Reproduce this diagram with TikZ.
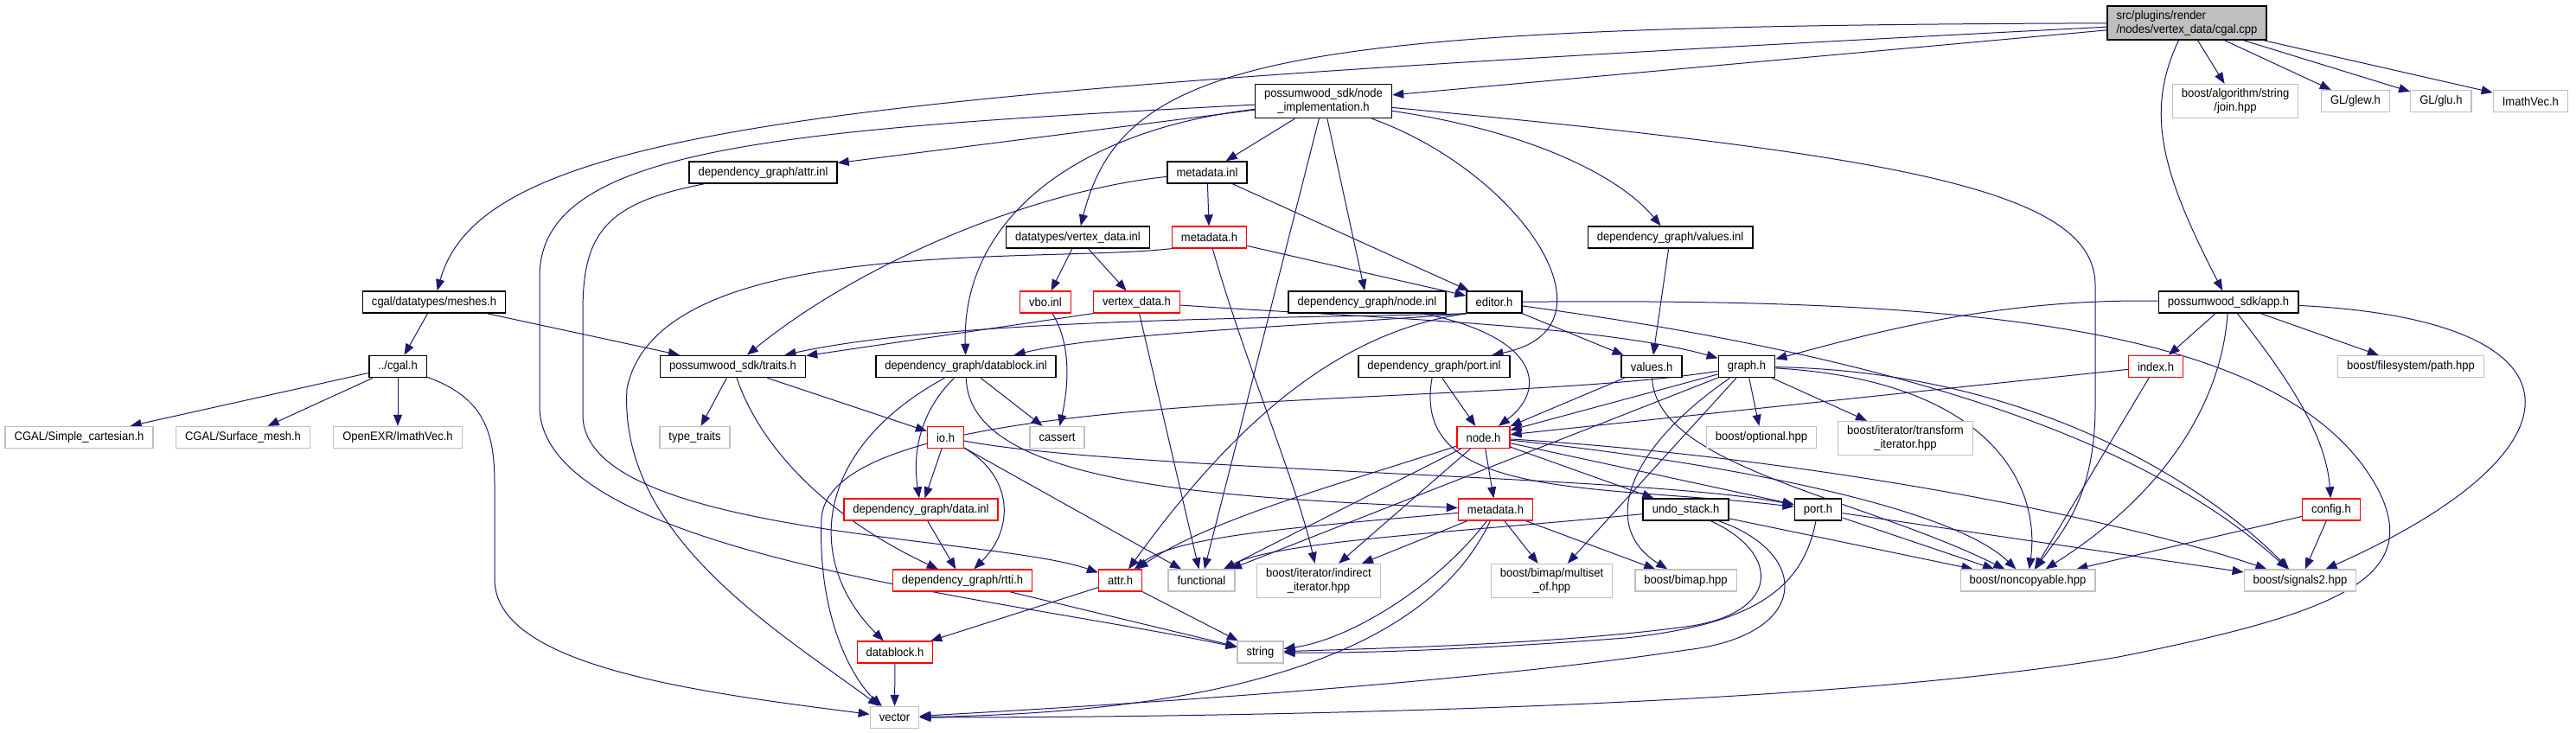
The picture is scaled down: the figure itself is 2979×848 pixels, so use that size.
\documentclass[tikz,border=0pt]{standalone}
\usepackage{fontspec}
\setmainfont{Liberation Sans}[FakeStretch=0.93]
\usepackage{tikz}
\usetikzlibrary{arrows.meta,positioning,backgrounds}

\definecolor{edgeblue}{HTML}{191970}
\definecolor{extgray}{HTML}{BFBFBF}

\begin{document}
\begin{tikzpicture}[
  x=1pt, y=-1pt,
  every node/.style={font=\fontsize{14}{16}\selectfont},
  box/.style={draw, fill=white, inner xsep=10.5pt, inner ysep=5pt, minimum height=25pt,
              align=center, line width=1.3pt},
  doc/.style={box, draw=black, line width=1.6pt},
  trunc/.style={box, draw=red},
  ext/.style={box, draw=extgray},
  self/.style={box, draw=black, fill=extgray, align=left, line width=1.6pt},
  dep/.style={edgeblue, line width=1pt, -{Triangle[length=13pt,width=10pt]}},
]
  \useasboundingbox (0,0) rectangle (2979,848);

  \node[self] (root) at (2529,26.5) {src/plugins/render\\/nodes/vertex\_data/cgal.cpp};
  \node[doc] (ni) at (1530.5,117) {possumwood\_sdk/node\\\_implementation.h};
  \node[ext] (join) at (2585,117) {boost/algorithm/string\\/join.hpp};
  \node[ext] (glew) at (2724,117) {GL/glew.h};
  \node[ext, right=23pt of glew] (glu) {GL/glu.h};
  \node[ext, right=24pt of glu] (imath) {ImathVec.h};

  \node[doc] (attrinl) at (882.5,199.5) {dependency\_graph/attr.inl};
  \node[doc] (mdinl) at (1396,199.5) {metadata.inl};
  \node[doc] (vdinl) at (1246.5,274.5) {datatypes/vertex\_data.inl};
  \node[trunc] (mdh1) at (1398.5,274.5) {metadata.h};
  \node[doc] (valinl) at (1931.5,274.5) {dependency\_graph/values.inl};

  \node[doc] (meshes) at (502,349.5) {cgal/datatypes/meshes.h};
  \node[trunc] (vbo) at (1209,349.5) {vbo.inl};
  \node[trunc] (vdh) at (1314.5,349.5) {vertex\_data.h};
  \node[doc] (nodeinl) at (1581,349.5) {dependency\_graph/node.inl};
  \node[doc] (editor) at (1728,349.5) {editor.h};
  \node[doc] (app) at (2577,349.5) {possumwood\_sdk/app.h};

  \node[doc] (cgalh) at (460,424) {../cgal.h};
  \node[doc] (traits) at (847.5,424) {possumwood\_sdk/traits.h};
  \node[doc] (dbinl) at (1117,424) {dependency\_graph/datablock.inl};
  \node[doc] (portinl) at (1658.5,424) {dependency\_graph/port.inl};
  \node[doc] (valh) at (1910,424) {values.h};
  \node[doc] (graph) at (2020,424) {graph.h};
  \node[trunc] (index) at (2493,424) {index.h};
  \node[ext] (path) at (2788,424) {boost/filesystem/path.hpp};

  \node[ext] (simple) at (91.5,506) {CGAL/Simple\_cartesian.h};
  \node[ext] (surface) at (281,506) {CGAL/Surface\_mesh.h};
  \node[ext] (openexr) at (460,506) {OpenEXR/ImathVec.h};
  \node[ext] (typetraits) at (803.5,506) {type\_traits};
  \node[trunc] (io) at (1093.5,506) {io.h};
  \node[ext] (cassert) at (1222.5,506) {cassert};
  \node[trunc] (nodeh) at (1715.5,506) {node.h};
  \node[ext] (optional) at (2037,506) {boost/optional.hpp};
  \node[ext] (transform) at (2203.5,507) {boost/iterator/transform\\\_iterator.hpp};

  \node[trunc] (datainl) at (1065,589.5) {dependency\_graph/data.inl};
  \node[trunc] (mdh2) at (1729.5,589.5) {metadata.h};
  \node[doc] (undo) at (1949.5,589.5) {undo\_stack.h};
  \node[doc] (porth) at (2102.5,589.5) {port.h};
  \node[trunc] (config) at (2696,589.5) {config.h};

  \node[trunc] (rtti) at (1113,671.5) {dependency\_graph/rtti.h};
  \node[trunc] (attrh) at (1295.5,671.5) {attr.h};
  \node[ext] (functional) at (1389.5,671.5) {functional};
  \node[ext] (indirect) at (1525,672) {boost/iterator/indirect\\\_iterator.hpp};
  \node[ext] (multiset) at (1794.5,672) {boost/bimap/multiset\\\_of.hpp};
  \node[ext] (bimap) at (1949.5,671.5) {boost/bimap.hpp};
  \node[ext] (noncopyable) at (2345,671.5) {boost/noncopyable.hpp};
  \node[ext] (signals2) at (2660,671.5) {boost/signals2.hpp};

  \node[trunc] (datablockh) at (1035,754.5) {datablock.h};
  \node[ext] (string) at (1457.5,754.5) {string};
  \node[ext] (vector) at (1034.5,830) {vector};

  \begin{scope}[on background layer]
  \fill[white] (0,0) rectangle (2979,848);
  \draw[dep] (root) -- (ni);
  \draw[dep] (root) .. controls (1000,105) and (560,140) .. (meshes);
  \draw[dep] (root) .. controls (1500,30) and (1300,60) .. (vdinl);
  \draw[dep] (root) .. controls (2480,130) and (2500,200) .. (app);
  \draw[dep] (root) -- (join); \draw[dep] (root) -- (glew);
  \draw[dep] (root) -- (glu); \draw[dep] (root) -- (imath);

  \draw[dep] (ni) -- (attrinl); \draw[dep] (ni) -- (mdinl);
  \draw[dep] (ni) .. controls (1250,150) and (1112,250) .. (dbinl);
  \draw[dep] (ni) -- (functional); \draw[dep] (ni) -- (nodeinl);
  \draw[dep] (ni) .. controls (1760,200) and (1880,380) .. (portinl);
  \draw[dep] (ni) .. controls (1760,150) and (1870,200) .. (valinl);
  \draw[dep] (ni) .. controls (2200,180) and (2423,220) .. (2423,330) -- (2423,470)
    .. controls (2423,580) and (2380,620) .. (noncopyable);
  \draw[dep] (ni) .. controls (900,150) and (624,170) .. (624,320) -- (624,470)
    .. controls (624,640) and (1150,690) .. (string);

  \draw[dep] (attrinl) .. controls (700,235) and (674,270) .. (674,360) -- (674,480)
    .. controls (674,620) and (1150,620) .. (attrh);
  \draw[dep] (mdinl) -- (mdh1); \draw[dep] (mdinl) -- (editor);
  \draw[dep] (mdinl) .. controls (1200,220) and (1000,300) .. (traits);
  \draw[dep] (vdinl) -- (vbo); \draw[dep] (vdinl) -- (vdh);
  \draw[dep] (mdh1) -- (editor);
  \draw[dep] (mdh1) .. controls (1440,420) and (1500,560) .. (indirect);
  \draw[dep] (mdh1.south west) .. controls (1200,305) and (760,270) .. (725,450)
    .. controls (715,620) and (900,730) .. (vector);
  \draw[dep] (valinl) -- (valh);

  \draw[dep] (meshes) -- (cgalh); \draw[dep] (meshes) -- (traits);
  \draw[dep] (cgalh) -- (simple); \draw[dep] (cgalh) -- (surface); \draw[dep] (cgalh) -- (openexr);
  \draw[dep] (cgalh) .. controls (560,460) and (572,500) .. (572,560) -- (572,670)
    .. controls (572,770) and (800,800) .. (vector);
  \draw[dep] (vbo) .. controls (1240,400) and (1235,450) .. (cassert);
  \draw[dep] (vdh.south west) -- (traits); \draw[dep] (vdh) -- (functional);
  \draw[dep] (vdh) .. controls (1550,366) and (1850,375) .. (graph);
  \draw[dep] (nodeinl) .. controls (1780,390) and (1790,450) .. (nodeh);

  \draw[dep] (editor.south west) .. controls (1500,368) and (1100,368) .. (traits);
  \draw[dep] (editor.south west) .. controls (1500,378) and (1280,385) .. (dbinl);
  \draw[dep] (editor) -- (valh);
  \draw[dep] (editor.south west) .. controls (1540,385) and (1420,500) .. (attrh);
  \draw[dep] (editor) .. controls (2100,400) and (2450,480) .. (signals2);
  \draw[dep] (editor) .. controls (2250,345) and (2650,370) .. (2752,570)
    .. controls (2800,670) and (2700,710) .. (2450,760)
    .. controls (2100,820) and (1400,830) .. (vector);

  \draw[dep] (app) .. controls (2300,345) and (2150,390) .. (graph);
  \draw[dep] (app) -- (index); \draw[dep] (app) -- (path);
  \draw[dep] (app) .. controls (2570,450) and (2520,560) .. (noncopyable);
  \draw[dep] (app) .. controls (2640,430) and (2690,500) .. (config);
  \draw[dep] (app) .. controls (3000,370) and (3000,520) .. (signals2);
  \draw[dep] (index) -- (nodeh); \draw[dep] (index) -- (noncopyable);
  \draw[dep] (config) -- (noncopyable); \draw[dep] (config) -- (signals2);

  \draw[dep] (traits) -- (typetraits); \draw[dep] (traits) -- (io);
  \draw[dep] (traits) .. controls (880,520) and (960,600) .. (rtti);
  \draw[dep] (dbinl) .. controls (1060,480) and (1056,530) .. (datainl);
  \draw[dep] (dbinl) -- (cassert);
  \draw[dep] (dbinl) .. controls (940,520) and (930,650) .. (datablockh);
  \draw[dep] (dbinl) .. controls (1120,560) and (1400,575) .. (mdh2);
  \draw[dep] (portinl) -- (nodeh);
  \draw[dep] (portinl) .. controls (1630,580) and (1850,560) .. (porth);
  \draw[dep] (valh) -- (nodeh);
  \draw[dep] (valh) .. controls (1915,540) and (2150,575) .. (noncopyable);

  \draw[dep] (graph) -- (nodeh); \draw[dep] (graph) -- (optional); \draw[dep] (graph) -- (transform);
  \draw[dep] (graph) -- (multiset); \draw[dep] (graph) -- (functional);
  \draw[dep] (graph) .. controls (1880,520) and (1850,610) .. (bimap);
  \draw[dep] (graph) .. controls (2300,440) and (2360,560) .. (noncopyable);
  \draw[dep] (graph) .. controls (2350,430) and (2550,560) .. (signals2);
  \draw[dep] (graph) .. controls (1700,475) and (960,440) .. (950,600)
    .. controls (945,720) and (990,790) .. (vector);

  \draw[dep] (nodeh) -- (mdh2); \draw[dep] (nodeh) -- (porth); \draw[dep] (nodeh) -- (undo);
  \draw[dep] (nodeh) .. controls (1550,560) and (1400,600) .. (attrh);
  \draw[dep] (nodeh) -- (functional); \draw[dep] (nodeh) -- (indirect);
  \draw[dep] (nodeh) .. controls (1950,530) and (2250,580) .. (noncopyable);
  \draw[dep] (nodeh) .. controls (2100,530) and (2450,600) .. (signals2);

  \draw[dep] (io) -- (datainl); \draw[dep] (io) -- (functional);
  \draw[dep] (io) .. controls (1170,550) and (1175,610) .. (rtti);
  \draw[dep] (io) .. controls (1300,545) and (1900,550) .. (porth);

  \draw[dep] (mdh2) -- (indirect); \draw[dep] (mdh2) -- (multiset); \draw[dep] (mdh2) -- (bimap);
  \draw[dep] (mdh2) .. controls (1500,610) and (1360,620) .. (attrh);
  \draw[dep] (mdh2) .. controls (1660,680) and (1560,740) .. (string);
  \draw[dep] (mdh2) .. controls (1640,780) and (1350,825) .. (vector);
  \draw[dep] (undo) -- (noncopyable);
  \draw[dep] (undo) .. controls (1700,615) and (1480,625) .. (functional);
  \draw[dep] (undo) .. controls (2060,640) and (2060,710) .. (1950,725)
    .. controls (1800,745) and (1600,750) .. (string);
  \draw[dep] (undo) .. controls (2095,640) and (2095,735) .. (1950,752)
    .. controls (1700,790) and (1300,815) .. (vector);
  \draw[dep] (porth) -- (noncopyable); \draw[dep] (porth) -- (signals2);
  \draw[dep] (porth) .. controls (2085,680) and (2030,722) .. (1880,738)
    .. controls (1700,752) and (1560,756) .. (string);

  \draw[dep] (datainl) -- (rtti);
  \draw[dep] (rtti) -- (string);
  \draw[dep] (attrh) -- (datablockh); \draw[dep] (attrh) -- (string);
  \draw[dep] (datablockh) -- (vector);
  \end{scope}
\end{tikzpicture}
\end{document}
